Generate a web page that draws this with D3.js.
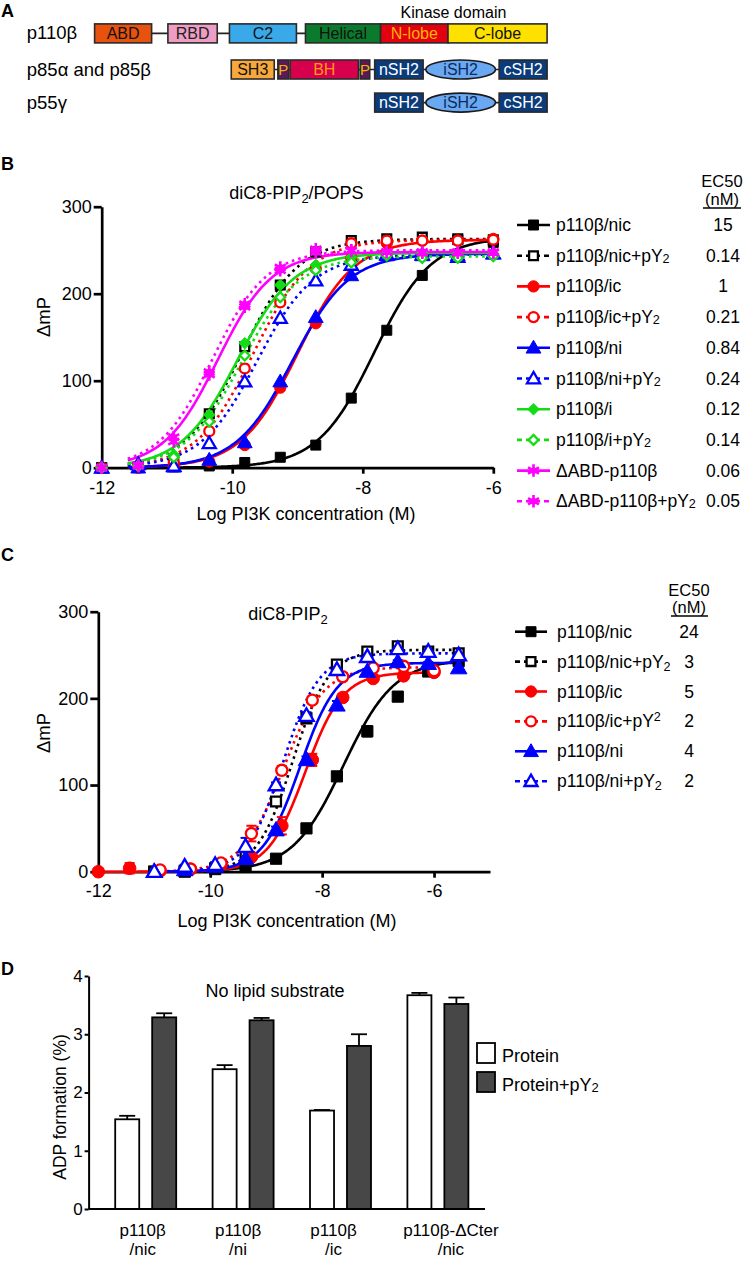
<!DOCTYPE html>
<html><head><meta charset="utf-8">
<script src="https://cdn.jsdelivr.net/npm/d3@7"></script>
<style>
body{margin:0;background:#fff;}
svg{display:block;font-family:"Liberation Sans",Arial,Helvetica,sans-serif;}
.ax path,.ax line{stroke:#000;}
.ax text{fill:#000;font-family:"Liberation Sans",Arial,Helvetica,sans-serif;}
</style></head><body>
<svg id="fig" width="746" height="1261"></svg>
<script>
// ---------------- DATA ----------------
// Panel A (schematic units 0-100 along the p110beta length)
const p110Names = ["ABD","RBD","C2","Helical","N-lobe","C-lobe"];
const p110From  = [0,16.2,29.8,46.6,63.2,78.1];
const p110To    = [12.6,27.1,44.6,63.2,78.1,100];
const p85Names  = ["SH3","P","BH","P","nSH2","iSH2","cSH2"];
const p85From   = [30.2,40.5,43.2,58.7,61.9,73.2,89.4];
const p85To     = [39.7,42.9,58.3,60.8,72.6,88.6,100];
const p55Names  = ["nSH2","iSH2","cSH2"];
const p55From   = [61.9,73.2,89.4];
const p55To     = [72.6,88.6,100];
const rowLabels = ["p110β","p85α and p85β","p55γ"];

// Panel B
const logConcB = [-6,-6.544,-7.088,-7.632,-8.176,-8.72,-9.264,-9.808,-10.352,-10.896,-11.44,-12];
const seriesB = ["p110β/nic","p110β/nic+pY2","p110β/ic","p110β/ic+pY2","p110β/ni","p110β/ni+pY2","p110β/i","p110β/i+pY2","ΔABD-p110β","ΔABD-p110β+pY2"];
const ec50B = ["15","0.14","1","0.21","0.84","0.24","0.12","0.14","0.06","0.05"];
const topB  = [265,263,262,262,246,245,247,243,248,250];
const hillB = [1,1,1,1,1,1,1,1,1.05,1.05];
const bNic      = [259,262,221,158,80,26,12,6,2,1,0,0];
const bNicPY2   = [262,263,265,263,261,248,210,139,62,10,1,0];
const bIc       = [263,261,261,258,241,166,92,26,7,2,0,0];
const bIcPY2    = [262,261,261,261,258,229,190,114,42,6,1,0];
const bNi       = [246,244,244,244,221,173,99,29,9,1,0,0];
const bNiPY2    = [246,242,245,245,233,215,172,99,28,2,4,0];
const bI        = [246,246,247,246,242,233,210,143,61,15,2,0];
const bIPY2     = [243,241,241,244,236,227,196,129,53,12,2,0];
const bAbd      = [248,248,248,248,249,248,227,185,107,30,2,0];
const bAbdPY2   = [247,247,247,248,250,251,230,188,110,35,3,0];
const valuesB = [bNic,bNicPY2,bIc,bIcPY2,bNi,bNiPY2,bI,bIPY2,bAbd,bAbdPY2];
const ticksXB = [-12,-10,-8,-6];
const ticksY  = [0,100,200,300];

// Panel C
const logConcC1 = [-5.56,-6.104,-6.648,-7.192,-7.736,-8.28,-8.824,-9.368,-9.912,-10.456,-11.0];
const logConcC2 = [-6,-6.544,-7.088,-7.632,-8.176,-8.72,-9.264,-9.808,-10.352,-10.896,-11.44,-12];
const logConcC3 = [-6,-6.544,-7.088,-7.632,-8.176,-8.72,-9.264,-9.808,-10.352,-10.896];
const seriesC = ["p110β/nic","p110β/nic+pY_2","p110β/ic","p110β/ic+pY^2","p110β/ni","p110β/ni+pY_2"];
const ec50C = ["24","3","5","2","4","2"];
const topC  = [245,256,230,236,241,252];
const hillC = [0.95,1.35,1.3,1.2,1.3,1.35];
const cNic    = [243,231,202,162,110,50,15,6,3,0,0];
const cNicPY2 = [252,254,260,254,239,177,81,17,4,1,0];
const cIc     = [230,226,223,201,129,53,17,8,3,1,4,0];
const cIcPY2  = [232,237,235,225,198,117,44,10,3,2];
const cNi     = [235,240,242,231,192,129,48,15,6,2,0];
const cNiPY2  = [250,254,257,248,233,180,100,29,8,6,0];
const eNic    = [4,3,3,6,4,3,2,1,1,0,0];
const eNicPY2 = [3,3,3,3,3,5,4,2,1,0,0];
const eIc     = [3,2,3,4,7,10,3,2,1,1,6,0];
const eIcPY2  = [3,3,3,4,3,5,9,3,1,1];
const eNi     = [3,2,2,3,5,4,4,3,2,1,0];
const eNiPY2  = [3,3,3,3,3,4,3,10,3,2,0];
const valuesC = [cNic,cNicPY2,cIc,cIcPY2,cNi,cNiPY2];
const errorsC = [eNic,eNicPY2,eIc,eIcPY2,eNi,eNiPY2];
const concC   = [logConcC1,logConcC1,logConcC2,logConcC3,logConcC1,logConcC1];
const ticksXC = [-12,-10,-8,-6];

// Panel D
const groupsD1 = ["p110β","p110β","p110β","p110β-ΔCter"];
const groupsD2 = ["/nic","/ni","/ic","/nic"];
const groupKeys = ["nic","ni","ic","dcter"];
const subgroupsD = ["Protein","Protein+pY2"];
const protein    = [1.54,2.40,1.69,3.67];
const proteinErr = [0.06,0.07,0.01,0.04];
const proteinPY2 = [3.29,3.24,2.80,3.52];
const proteinPY2Err = [0.07,0.04,0.20,0.11];
const ticksYD = [0,1,2,3,4];

// ---------------- STYLES ----------------
const colB = ["#000","#000","#ff0000","#ff0000","#0000ff","#0000ff","#14dc14","#14dc14","#ff00ff","#ff00ff"];
const shapeB = ["square","square","circle","circle","triangle","triangle","diamond","diamond","asterisk","asterisk"];
const colC = ["#000","#000","#ff0000","#ff0000","#0000ff","#0000ff"];
const shapeC = ["square","square","circle","circle","triangle","triangle"];
const domFill = {"ABD":"#e8520f","RBD":"#ee9ec4","C2":"#3aa9ea","Helical":"#0c7a2c","N-lobe":"#e3000f","C-lobe":"#ffe100",
  "SH3":"#f8a83a","P":"#5a1a58","BH":"#d6004c","nSH2":"#0b3b7a","iSH2":"#6aa8f2","cSH2":"#0b3b7a"};
const domText = {"ABD":"#111","RBD":"#222","C2":"#111","Helical":"#111","N-lobe":"#ffb400","C-lobe":"#111",
  "SH3":"#111","P":"#f2b400","BH":"#ff9a10","nSH2":"#fff","iSH2":"#0b2b5a","cSH2":"#fff"};

const svg = d3.select("#fig");
const fmtInt = d => String(d);

// panel letters
[["A",17],["B",170],["C",561],["D",975]].forEach(([t,y])=>{
  svg.append("text").attr("x",1).attr("y",y).attr("font-size",18).attr("font-weight","bold").text(t);
});

// ---------------- PANEL A ----------------
const aX = d3.scaleLinear().domain([0,100]).range([94.6,547.1]);
const rowsA = [
  {names:p110Names, from:p110From, to:p110To, cy:33.4},
  {names:p85Names, from:p85From, to:p85To, cy:69.5},
  {names:p55Names, from:p55From, to:p55To, cy:102.6}
];
const gA = svg.append("g");
rowsA.forEach((r,ri)=>{
  gA.append("text").attr("x",26.8).attr("y",r.cy+6).attr("font-size",18.5).text(rowLabels[ri]);
  gA.append("line").attr("x1",aX(r.from[0])).attr("x2",aX(r.to[r.to.length-1]))
    .attr("y1",r.cy).attr("y2",r.cy).attr("stroke","#222").attr("stroke-width",1.6);
  r.names.forEach((n,i)=>{
    const x0=aX(r.from[i]), x1=aX(r.to[i]), h=19;
    if(n==="iSH2"){
      gA.append("ellipse").attr("cx",(x0+x1)/2).attr("cy",r.cy).attr("rx",(x1-x0)/2).attr("ry",h/2)
        .attr("fill",domFill[n]).attr("stroke","#1a1a1a").attr("stroke-width",1.6);
    } else {
      gA.append("rect").attr("x",x0).attr("y",r.cy-h/2).attr("width",x1-x0).attr("height",h)
        .attr("fill",domFill[n]).attr("stroke","#2a2a2a").attr("stroke-width",1.6);
    }
    gA.append("text").attr("x",(x0+x1)/2).attr("y",r.cy+5.8).attr("text-anchor","middle")
      .attr("font-size",n==="P"?15:16).attr("fill",domText[n]).text(n);
  });
});
gA.append("text").attr("x",aX(79.3)).attr("y",18).attr("text-anchor","middle").attr("font-size",16).text("Kinase domain");

// ---------------- helpers ----------------
const hill = (x,top,logEC,n)=> top/(1+Math.pow(10,(logEC-x)*n));
function marker(g,x,y,shape,filled,color,size){
  if(shape==="asterisk"){
    g.append("path").attr("d",d3.symbol(d3.symbolAsterisk,size*1.1)())
      .attr("transform",`translate(${x},${y})`).attr("stroke",color).attr("stroke-width",2.6).attr("fill","none");
    g.append("circle").attr("cx",x).attr("cy",y).attr("r",3.2).attr("fill",color);
    return;
  }
  const t = shape==="square"?d3.symbolSquare: shape==="circle"?d3.symbolCircle: shape==="triangle"?d3.symbolTriangle: d3.symbolSquare;
  let s = shape==="diamond"? size*0.62 : shape==="triangle"? size*0.95 : size;
  if(!filled) s = s*0.78;
  const rot = shape==="diamond"?45:0;
  const dy = shape==="triangle"?1:0;
  g.append("path").attr("d",d3.symbol(t,s)())
    .attr("transform",`translate(${x},${y+dy}) rotate(${rot})`)
    .attr("fill",filled?color:"#fff").attr("stroke",color).attr("stroke-width",filled?1:2.3);
}
function labelText(g,x,y,str,size){
  const t = g.append("text").attr("x",x).attr("y",y).attr("font-size",size);
  if(str.endsWith("pY^2")){ t.append("tspan").text(str.slice(0,-2)); t.append("tspan").attr("font-size",size*0.72).attr("dy",-6).text("2"); }
  else if(str.endsWith("pY_2")){ t.append("tspan").text(str.slice(0,-2)); t.append("tspan").attr("font-size",size*0.72).attr("dy",3).text("2"); }
  else if(str.endsWith("pY2")){ t.append("tspan").text(str.slice(0,-1)); t.append("tspan").attr("font-size",size*0.72).attr("dy",1).text("2"); }
  else t.text(str);
  return t;
}
function styleAxis(g,w,fs){
  g.attr("class","ax");
  g.selectAll("path,line").attr("stroke-width",w);
  g.selectAll("text").attr("font-size",fs);
}

// ---------------- PANEL B ----------------
const xB = d3.scaleLinear().domain([-12,-6]).range([101.7,493.3]);
const yB = d3.scaleLinear().domain([0,300]).range([467.7,206.7]);
const gB = svg.append("g");
styleAxis(gB.append("g").attr("transform",`translate(0,${yB(0)})`)
  .call(d3.axisBottom(xB).tickValues(ticksXB).tickFormat(fmtInt).tickSize(6).tickPadding(7.5).tickSizeOuter(0)),2.7,18);
styleAxis(gB.append("g").attr("transform",`translate(${xB(-12)},0)`)
  .call(d3.axisLeft(yB).tickValues(ticksY).tickFormat(fmtInt).tickSize(8).tickPadding(2).tickSizeOuter(0)),2.7,18);
gB.append("text").attr("x",306).attr("y",520).attr("text-anchor","middle").attr("font-size",18).text("Log PI3K concentration (M)");
gB.append("text").attr("transform","translate(50,317) rotate(-90)").attr("text-anchor","middle").attr("font-size",18.5).text("ΔmP");
const tB = gB.append("text").attr("x",296.5).attr("y",199).attr("text-anchor","middle").attr("font-size",18);
tB.append("tspan").text("diC8-PIP"); tB.append("tspan").attr("font-size",13).attr("dy",4).text("2"); tB.append("tspan").attr("dy",-4).text("/POPS");

const lineB = d3.line().x(d=>xB(d[0])).y(d=>yB(d[1]));
const curveXB = d3.range(-11.6,-5.999,0.02);
seriesB.forEach((s,i)=>{
  const logEC = Math.log10(parseFloat(ec50B[i])*1e-9);
  const dotted = i%2===1;
  gB.append("path").datum(curveXB.map(x=>[x,hill(x,topB[i],logEC,hillB[i])]))
    .attr("d",lineB).attr("fill","none").attr("stroke",colB[i]).attr("stroke-width",2.6)
    .attr("stroke-dasharray",dotted?"2.6 4":null);
});
seriesB.forEach((s,i)=>{
  const filled = i%2===0;
  valuesB[i].forEach((v,j)=> marker(gB,xB(logConcB[j]),yB(v),shapeB[i],filled,colB[i],100));
});
// legend B
const legB = svg.append("g");
legB.append("text").attr("x",722).attr("y",187).attr("text-anchor","middle").attr("font-size",16.5).text("EC50");
legB.append("text").attr("x",722).attr("y",205).attr("text-anchor","middle").attr("font-size",16.5).text("(nM)");
legB.append("line").attr("x1",703).attr("x2",741).attr("y1",208).attr("y2",208).attr("stroke","#000").attr("stroke-width",1.3);
seriesB.forEach((s,i)=>{
  const y = 225 + i*30.7;
  const dotted = i%2===1;
  legB.append("line").attr("x1",517).attr("x2",550).attr("y1",y).attr("y2",y).attr("stroke",colB[i])
    .attr("stroke-width",2.6).attr("stroke-dasharray",dotted?"5 4":null);
  marker(legB,533.5,y,shapeB[i],!dotted,colB[i],100);
  labelText(legB,556,y+6,s,17.5);
  legB.append("text").attr("x",723).attr("y",y+6).attr("text-anchor","middle").attr("font-size",17.5).text(ec50B[i]);
});

// ---------------- PANEL C ----------------
const xC = d3.scaleLinear().domain([-12,-5]).range([98.3,490]);
const yC = d3.scaleLinear().domain([0,300]).range([871.7,611.7]);
const gC = svg.append("g");
styleAxis(gC.append("g").attr("transform",`translate(0,${yC(0)})`)
  .call(d3.axisBottom(xC).tickValues(ticksXC).tickFormat(fmtInt).tickSize(6).tickPadding(7).tickSizeOuter(0)),2.7,18);
styleAxis(gC.append("g").attr("transform",`translate(${xC(-12)},0)`)
  .call(d3.axisLeft(yC).tickValues(ticksY).tickFormat(fmtInt).tickSize(8).tickPadding(2).tickSizeOuter(0)),2.7,18);
gC.append("text").attr("x",287).attr("y",927).attr("text-anchor","middle").attr("font-size",18).text("Log PI3K concentration (M)");
gC.append("text").attr("transform","translate(50,733) rotate(-90)").attr("text-anchor","middle").attr("font-size",18.5).text("ΔmP");
const tC = gC.append("text").attr("x",288).attr("y",620).attr("text-anchor","middle").attr("font-size",18);
tC.append("tspan").text("diC8-PIP"); tC.append("tspan").attr("font-size",13).attr("dy",4).text("2");

const lineC = d3.line().x(d=>xC(d[0])).y(d=>yC(d[1]));
seriesC.forEach((s,i)=>{
  const logEC = Math.log10(parseFloat(ec50C[i])*1e-9);
  const dotted = i%2===1;
  const xs = d3.range(d3.min(concC[i]), d3.max(concC[i])+0.001, 0.02);
  gC.append("path").datum(xs.map(x=>[x,hill(x,topC[i],logEC,hillC[i])]))
    .attr("d",lineC).attr("fill","none").attr("stroke",colC[i]).attr("stroke-width",2.6)
    .attr("stroke-dasharray",dotted?"2.6 4":null);
});
seriesC.forEach((s,i)=>{
  valuesC[i].forEach((v,j)=>{
    const e = errorsC[i][j], x = xC(concC[i][j]);
    if(e>0){
      gC.append("line").attr("x1",x).attr("x2",x).attr("y1",yC(v-e)).attr("y2",yC(v+e)).attr("stroke",colC[i]).attr("stroke-width",2);
      [v-e,v+e].forEach(w=> gC.append("line").attr("x1",x-5).attr("x2",x+5).attr("y1",yC(w)).attr("y2",yC(w)).attr("stroke",colC[i]).attr("stroke-width",2));
    }
  });
});
seriesC.forEach((s,i)=>{
  const filled = i%2===0;
  valuesC[i].forEach((v,j)=> marker(gC,xC(concC[i][j]),yC(v),shapeC[i],filled,colC[i],125));
});
// legend C
const legC = svg.append("g");
legC.append("text").attr("x",689).attr("y",596).attr("text-anchor","middle").attr("font-size",16.5).text("EC50");
legC.append("text").attr("x",689).attr("y",613).attr("text-anchor","middle").attr("font-size",16.5).text("(nM)");
legC.append("line").attr("x1",671).attr("x2",708).attr("y1",616).attr("y2",616).attr("stroke","#000").attr("stroke-width",1.3);
seriesC.forEach((s,i)=>{
  const y = 631.7 + i*29.9;
  const dotted = i%2===1;
  legC.append("line").attr("x1",515).attr("x2",547).attr("y1",y).attr("y2",y).attr("stroke",colC[i])
    .attr("stroke-width",2.6).attr("stroke-dasharray",dotted?"5 4":null);
  marker(legC,531,y,shapeC[i],!dotted,colC[i],100);
  labelText(legC,557,y+6,s,17.5);
  legC.append("text").attr("x",689).attr("y",y+6).attr("text-anchor","middle").attr("font-size",17.5).text(ec50C[i]);
});

// ---------------- PANEL D ----------------
const xD = d3.scaleBand().domain(groupKeys).range([97,486.6]).padding(0);
const xD1 = d3.scaleBand().domain(subgroupsD).range([-30.5,30.5]).paddingInner(0.35).paddingOuter(0);
const yD = d3.scaleLinear().domain([0,4]).range([1209,976]);
const gD = svg.append("g");
const yAxD = gD.append("g").attr("transform","translate(88.6,0)")
  .call(d3.axisLeft(yD).tickValues(ticksYD).tickFormat(fmtInt).tickSize(4).tickPadding(2).tickSizeOuter(0));
styleAxis(yAxD,2,17);
const barsD = [protein,proteinPY2], errsD = [proteinErr,proteinPY2Err], fillD = ["#ffffff","#474747"];
subgroupsD.forEach((sg,k)=>{
  groupKeys.forEach((gk,j)=>{
    const x = xD(gk)+xD.bandwidth()/2 + xD1(sg);
    const v = barsD[k][j], e = errsD[k][j], bw = xD1.bandwidth();
    gD.append("line").attr("x1",x+bw/2).attr("x2",x+bw/2).attr("y1",yD(v)).attr("y2",yD(v+e)).attr("stroke","#000").attr("stroke-width",1.8);
    gD.append("line").attr("x1",x+bw/2-8).attr("x2",x+bw/2+8).attr("y1",yD(v+e)).attr("y2",yD(v+e)).attr("stroke","#000").attr("stroke-width",1.8);
    gD.append("rect").attr("x",x).attr("y",yD(v)).attr("width",bw).attr("height",yD(0)-yD(v))
      .attr("fill",fillD[k]).attr("stroke","#000").attr("stroke-width",1.8);
  });
});
gD.append("line").attr("x1",88.6).attr("x2",485).attr("y1",yD(0)).attr("y2",yD(0)).attr("stroke","#000").attr("stroke-width",2);
const shiftD = [-3,-5,-7,13];
groupKeys.forEach((gk,j)=>{
  const cx = xD(gk)+xD.bandwidth()/2 + shiftD[j];
  gD.append("text").attr("x",cx).attr("y",1236).attr("text-anchor","middle").attr("font-size",17).text(groupsD1[j]);
  gD.append("text").attr("x",cx).attr("y",1255).attr("text-anchor","middle").attr("font-size",17).text(groupsD2[j]);
});
gD.append("text").attr("x",275).attr("y",997).attr("text-anchor","middle").attr("font-size",18).text("No lipid substrate");
gD.append("text").attr("transform","translate(66,1107) rotate(-90)").attr("text-anchor","middle").attr("font-size",17.5).text("ADP formation (%)");
subgroupsD.forEach((sg,k)=>{
  const y = 1043 + k*29;
  gD.append("rect").attr("x",477).attr("y",y).attr("width",18).attr("height",20).attr("fill",fillD[k]).attr("stroke","#000").attr("stroke-width",1.8);
  labelText(gD,502,y+18.5,sg,18);
});
</script>
</body></html>
